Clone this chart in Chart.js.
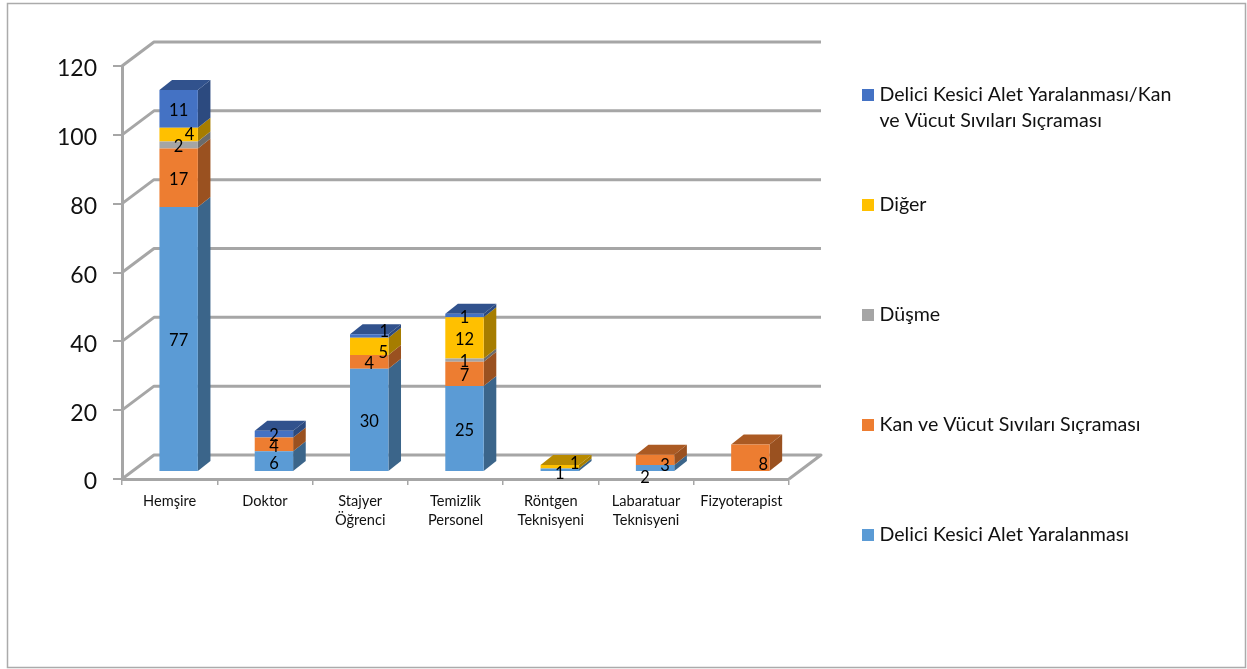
<!DOCTYPE html>
<html lang="tr">
<head>
<meta charset="utf-8">
<title>Yaralanma türleri</title>
<script src="https://cdn.jsdelivr.net/npm/chart.js@4"></script>
<style>
  html, body { margin: 0; padding: 0; background: #fff; }
  canvas { display: block; }
</style>
</head>
<body>
<canvas id="chart" width="1247" height="669"></canvas>
<script>
// Occupational groups along the horizontal axis
const categories = [
  'Hemşire', 'Doktor', ['Stajyer', 'Öğrenci'], ['Temizlik', 'Personel'],
  ['Röntgen', 'Teknisyeni'], ['Labaratuar', 'Teknisyeni'], 'Fizyoterapist'
];

// Injury counts per group, bottom of the stack first
const deliciKesici = [77, 6, 30, 25, 1, 2, 0];
const kanVucut     = [17, 4, 4, 7, 0, 3, 8];
const dusme        = [2, 0, 0, 1, 0, 0, 0];
const diger        = [4, 0, 5, 12, 1, 0, 0];
const deliciVeKan  = [11, 2, 1, 1, 0, 0, 0];

const seriesNames = [
  'Delici Kesici Alet Yaralanması',
  'Kan ve Vücut Sıvıları Sıçraması',
  'Düşme',
  'Diğer',
  'Delici Kesici Alet Yaralanması/Kan ve Vücut Sıvıları Sıçraması'
];
const seriesColors = ['#5B9BD5', '#ED7D31', '#A5A5A5', '#FFC000', '#4472C4'];
const yTicks = [0, 20, 40, 60, 80, 100, 120];

// Projection of the depth axis: whole floor, bar plane inside it, bar thickness
const WALL = { dx: 32, dy: -24 };
const BAR_PLANE = { dx: 9, dy: -7 };
const BAR_DEPTH = { dx: 12.6, dy: -10 };
const GRID_COLOR = '#A6A6A6';
const FONT = 'Lato, Carlito, sans-serif';

// Labels nudged away from their segment centre so they stay legible: "dataset:category" -> [dx, dy]
const labelNudges = {
  '3:0': [11, -2], '3:2': [14, 4], '4:2': [15, -6],
  '0:4': [0, 2], '3:4': [15, -5],
  '0:5': [-10, 8], '1:5': [10, 4],
  '1:6': [13, 5]
};

function shade(hex, f) {
  const n = parseInt(hex.slice(1), 16);
  const c = [n >> 16 & 255, n >> 8 & 255, n & 255].map(v => Math.round(v * f));
  return `rgb(${c[0]},${c[1]},${c[2]})`;
}

function poly(ctx, pts, fill) {
  ctx.beginPath();
  pts.forEach((p, i) => i ? ctx.lineTo(p[0], p[1]) : ctx.moveTo(p[0], p[1]));
  ctx.closePath();
  ctx.fillStyle = fill;
  ctx.fill();
}

// Outer frame, back wall gridlines and floor of the 3D box
const wallPlugin = {
  id: 'wall',
  beforeDraw(chart) {
    const { ctx } = chart;
    ctx.save();
    ctx.fillStyle = '#fff';
    ctx.fillRect(0, 0, chart.width, chart.height);
    ctx.strokeStyle = '#ABABAB';
    ctx.lineWidth = 1.5;
    ctx.strokeRect(7.5, 3.5, 1238, 664);
    ctx.restore();
  },
  beforeDatasetsDraw(chart) {
    const { ctx, chartArea: a, scales: { y } } = chart;
    ctx.save();
    ctx.strokeStyle = GRID_COLOR;
    ctx.lineWidth = 3;
    ctx.lineJoin = 'round';
    yTicks.forEach(v => {
      const py = y.getPixelForValue(v);
      ctx.beginPath();
      ctx.moveTo(a.left, py);
      ctx.lineTo(a.left + WALL.dx, py + WALL.dy);
      ctx.lineTo(a.right + WALL.dx, py + WALL.dy);
      if (v === 0) ctx.lineTo(a.right, py);
      ctx.stroke();
    });
    ctx.restore();
  }
};

// Side and top faces of each stacked bar; the front faces come from the bar elements
const boxPlugin = {
  id: 'box',
  beforeDatasetsDraw(chart) {
    const { ctx } = chart;
    ctx.save();
    ctx.translate(BAR_PLANE.dx, BAR_PLANE.dy);
    const d = BAR_DEPTH;
    chart.data.datasets.forEach((ds, di) => {
      chart.getDatasetMeta(di).data.forEach((bar, i) => {
        if (!ds.data[i]) return;
        const r = bar.x + bar.width / 2, l = bar.x - bar.width / 2;
        poly(ctx, [[r, bar.base], [r + d.dx, bar.base + d.dy], [r + d.dx, bar.y + d.dy], [r, bar.y]],
          shade(seriesColors[di], 0.65));
        const isTop = chart.data.datasets.slice(di + 1).every(o => !o.data[i]);
        if (isTop) {
          poly(ctx, [[l, bar.y], [r, bar.y], [r + d.dx, bar.y + d.dy], [l + d.dx, bar.y + d.dy]],
            shade(seriesColors[di], 0.72));
        }
      });
    });
  },
  afterDatasetsDraw(chart) {
    const { ctx } = chart;
    ctx.restore();
    // Value labels
    ctx.save();
    ctx.font = `16.5px ${FONT}`;
    ctx.fillStyle = '#000';
    ctx.textAlign = 'center';
    ctx.textBaseline = 'middle';
    chart.data.datasets.forEach((ds, di) => {
      chart.getDatasetMeta(di).data.forEach((bar, i) => {
        if (!ds.data[i]) return;
        const n = labelNudges[`${di}:${i}`] || [0, 0];
        ctx.fillText(String(ds.data[i]),
          bar.x + BAR_PLANE.dx + n[0],
          (bar.y + bar.base) / 2 + BAR_PLANE.dy + n[1] + 2);
      });
    });
    ctx.restore();
  }
};

// Widely spaced legend on the right, with word wrap for the long entry
const legendPlugin = {
  id: 'sideLegend',
  afterDraw(chart) {
    const { ctx } = chart;
    const rows = [95, 205, 315, 425, 535];
    ctx.save();
    ctx.font = `19.6px ${FONT}`;
    ctx.textBaseline = 'middle';
    chart.data.datasets.slice().reverse().forEach((ds, k) => {
      ctx.fillStyle = ds.backgroundColor;
      ctx.fillRect(862, rows[k] - 6, 12, 12);
      ctx.fillStyle = '#111';
      const lines = [];
      let line = '';
      ds.label.split(' ').forEach(w => {
        const t = line ? line + ' ' + w : w;
        if (ctx.measureText(t).width > 300 && line) { lines.push(line); line = w; } else line = t;
      });
      lines.push(line);
      lines.forEach((t, j) => ctx.fillText(t, 879.5, rows[k] + j * 26));
    });
    ctx.restore();
  }
};

new Chart(document.getElementById('chart'), {
  type: 'bar',
  data: {
    labels: categories,
    datasets: [deliciKesici, kanVucut, dusme, diger, deliciVeKan].map((values, i) => ({
      label: seriesNames[i],
      data: values,
      backgroundColor: seriesColors[i],
      borderWidth: 0,
      barPercentage: 0.403,
      categoryPercentage: 1
    }))
  },
  plugins: [wallPlugin, boxPlugin, legendPlugin],
  options: {
    responsive: false,
    animation: false,
    layout: { padding: { left: 0, top: 66, right: 458, bottom: 0 } },
    plugins: { legend: { display: false }, tooltip: { enabled: false } },
    scales: {
      x: {
        stacked: true,
        afterFit(scale) { scale.height = 190; },
        grid: { drawOnChartArea: false, drawTicks: true, tickLength: 6, color: GRID_COLOR, lineWidth: 1.5 },
        border: { display: true, color: GRID_COLOR, width: 3 },
        ticks: {
          autoSkip: false, maxRotation: 0, padding: 7, color: '#111',
          font: { family: FONT, size: 14.6, lineHeight: 1.3 }
        }
      },
      y: {
        stacked: true,
        min: 0,
        max: 120,
        afterFit(scale) { scale.width = 122; },
        grid: { drawOnChartArea: false, drawTicks: true, tickLength: 9, color: GRID_COLOR, lineWidth: 2 },
        border: { display: true, color: GRID_COLOR, width: 3 },
        ticks: {
          stepSize: 20, padding: 16, color: '#111', labelOffset: 3,
          font: { family: FONT, size: 23 }
        }
      }
    }
  }
});
</script>
</body>
</html>
